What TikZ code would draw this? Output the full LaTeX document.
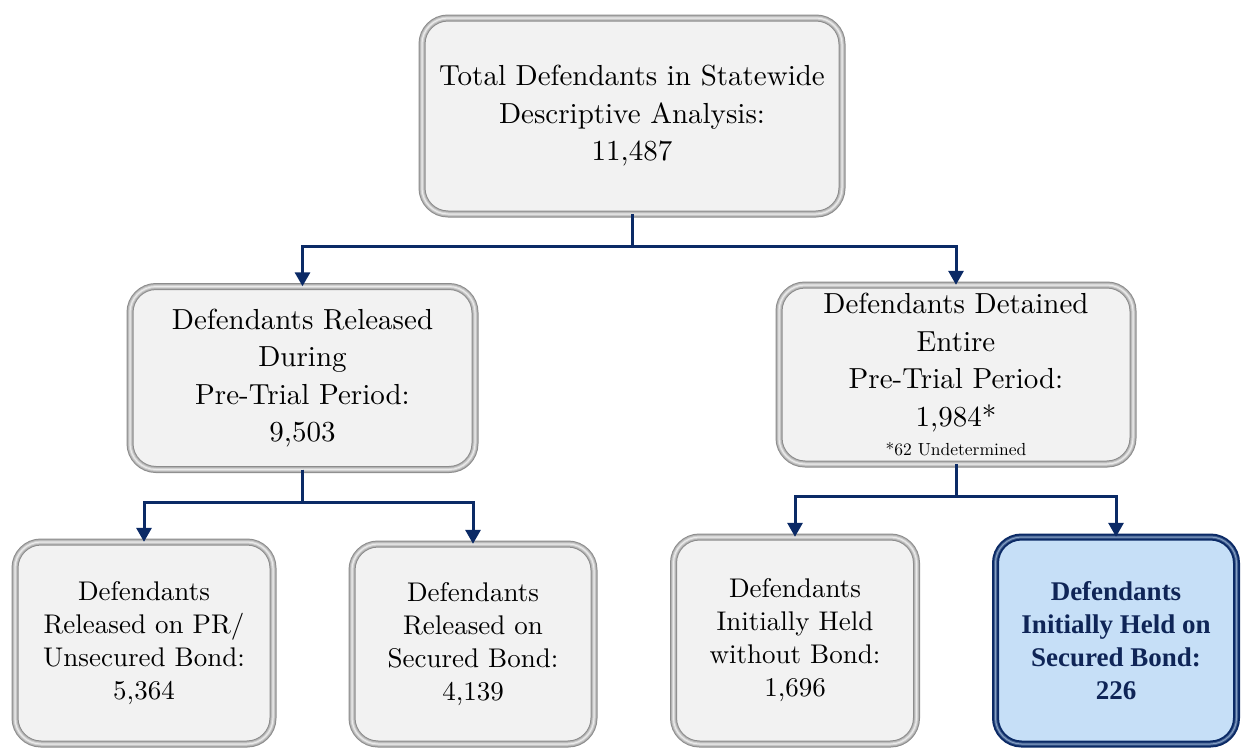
\documentclass[tikz,border=0pt]{standalone}
\usepackage{fontspec}
\newfontfamily\lmten{lmroman10-regular.otf}[BoldFont=lmroman10-bold.otf]
\newfontfamily\tnr{Liberation Serif}
\usetikzlibrary{arrows.meta,shadows}
\definecolor{navy}{HTML}{0B2A66}
\definecolor{boxfill}{HTML}{F2F2F2}
\definecolor{hlfill}{HTML}{C6DFF7}
\definecolor{hltext}{HTML}{0F2557}
\tikzset{
  box/.style={rectangle, rounded corners=26pt, align=center, fill=boxfill, inner sep=0pt,
    drop shadow={shadow xshift=2pt, shadow yshift=-3pt, fill=black!50, opacity=.45},
    postaction={draw=black!45, line width=7pt},
    postaction={draw=black!30, line width=5pt},
    postaction={draw=black!18, line width=3pt},
    postaction={draw=black!8, line width=1pt}},
  bigtext/.style={font=\lmten\fontsize{29}{37.5}\selectfont},
  smalltext/.style={font=\lmten\fontsize{27}{33}\selectfont},
  hlbox/.style={rectangle, rounded corners=26pt, align=center, fill=hlfill, inner sep=0pt,
    text=hltext, font=\tnr\fontsize{27}{33}\selectfont\bfseries,
    drop shadow={shadow xshift=2pt, shadow yshift=-3pt, fill=black!50, opacity=.45},
    postaction={draw=navy, line width=7pt},
    postaction={draw=navy!70!hlfill, line width=3pt},
    postaction={draw=navy!35!hlfill, line width=1pt}},
  conn/.style={draw=navy, line width=3pt},
  arr/.style={conn, -{Triangle[width=15pt,length=14pt]}}
}
\begin{document}
\begin{tikzpicture}[x=1pt,y=-1pt]
\useasboundingbox (0,0) rectangle (1242,750);
\node[box, bigtext, minimum width=420pt, minimum height=196pt] (top) at (632,116)
  {Total Defendants in Statewide\\Descriptive Analysis:\\11,487};
\node[box, bigtext, minimum width=345pt, minimum height=183pt] (lm) at (302.5,378)
  {Defendants Released\\During\\Pre-Trial Period:\\9,503};
\node[box, bigtext, minimum width=354pt, minimum height=179pt] (rm) at (956,374.5)
  {Defendants Detained\\Entire\\Pre-Trial Period:\\1,984*\\[-8pt]{\fontsize{17.5}{21}\selectfont *62 Undetermined}};
\node[box, smalltext, minimum width=258pt, minimum height=202pt] (b1) at (144,643)
  {Defendants\\Released on PR/\\Unsecured Bond:\\5,364};
\node[box, smalltext, minimum width=242pt, minimum height=200pt] (b2) at (473,644)
  {Defendants\\Released on\\Secured Bond:\\4,139};
\node[box, smalltext, minimum width=243pt, minimum height=207pt] (b3) at (795,640.5)
  {Defendants\\Initially Held\\without Bond:\\1,696};
\node[hlbox, minimum width=241pt, minimum height=207pt] (b4) at (1116,640.5)
  {Defendants\\Initially Held on\\Secured Bond:\\226};
\draw[arr] (top.south) -- ++(0,32) -| (lm.north);
\draw[arr] (top.south) -- ++(0,32) -| (rm.north);
\draw[arr] (lm.south) -- ++(0,33) -| (b1.north);
\draw[arr] (lm.south) -- ++(0,33) -| (b2.north);
\draw[arr] (rm.south) -- ++(0,32) -| (b3.north);
\draw[arr] (rm.south) -- ++(0,32) -| (b4.north);
\end{tikzpicture}
\end{document}
